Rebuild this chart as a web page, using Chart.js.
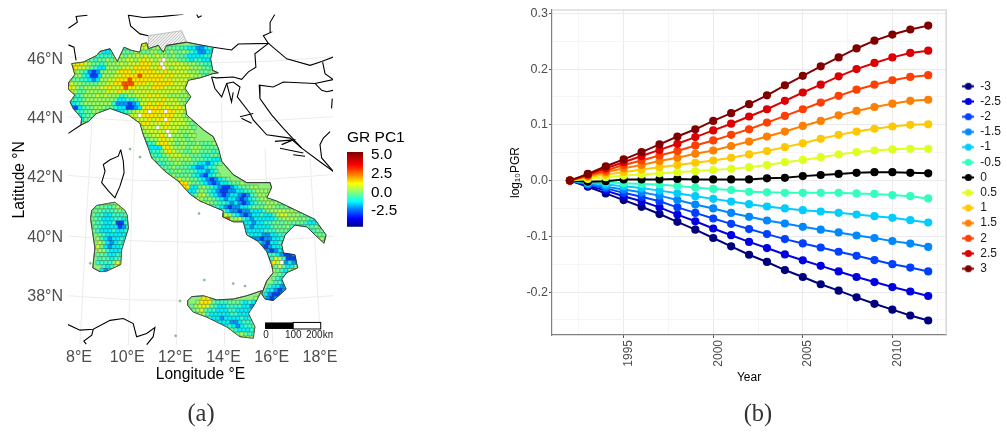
<!DOCTYPE html>
<html>
<head>
<meta charset="utf-8">
<title>GR PC1 map and PGR trends</title>
<script src="https://cdn.jsdelivr.net/npm/chart.js@4"></script>
<style>
  html, body { margin: 0; padding: 0; background: #fff; width: 1007px; height: 434px; overflow: hidden; }
  canvas { position: absolute; }
  .caption { position: absolute; top: 399px; width: 60px; text-align: center; font: 24.5px "Liberation Serif", serif; color: #333; }
</style>
</head>
<body>
<canvas id="mapChart" width="345" height="400" style="left:0;top:0"></canvas>
<canvas id="barChart" width="80" height="111" style="left:340px;top:125px"></canvas>
<canvas id="pgrChart" width="507" height="434" style="left:500px;top:0"></canvas>
<div class="caption" style="left:171px">(a)</div>
<div class="caption" style="left:728px">(b)</div>
<script>
// ---- line chart data (right panel)
const years = [1992,1993,1994,1995,1996,1997,1998,1999,2000,2001,2002,2003,2004,2005,2006,2007,2008,2009,2010,2011,2012];
const seriesNames = ["-3","-2.5","-2","-1.5","-1","-0.5","0","0.5","1","1.5","2","2.5","3"];
const seriesColors = ["#00007F","#0000E0","#0040FF","#0088FF","#00CCFF","#30FFC0","#000000","#DFFF20","#FFC800","#FF8000","#FF4000","#DD0000","#800000"];
const pgrM3 = [0,-.011,-.023,-.035,-.047,-.060,-.074,-.088,-.103,-.118,-.133,-.146,-.1605,-.173,-.186,-.1975,-.2095,-.221,-.2315,-.242,-.251];
const pgrM25 = [0,-.009,-.018,-.028,-.037,-.048,-.061,-.073,-.086,-.098,-.110,-.121,-.1325,-.143,-.153,-.163,-.173,-.182,-.191,-.199,-.207];
const pgrM2 = [0,-.007,-.014,-.022,-.029,-.037,-.048,-.058,-.068,-.0776,-.087,-.096,-.105,-.1128,-.120,-.1277,-.135,-.1426,-.150,-.156,-.163];
const pgrM15 = [0,-.006,-.011,-.016,-.021,-.027,-.035,-.043,-.050,-.058,-.065,-.0716,-.077,-.083,-.088,-.093,-.0985,-.103,-.1086,-.113,-.119];
const pgrM1 = [0,-.004,-.007,-.010,-.0135,-.018,-.0227,-.028,-.0328,-.0376,-.0424,-.0465,-.050,-.0531,-.0555,-.0578,-.0608,-.0638,-.0668,-.071,-.0752];
const pgrM05 = [0,-.003,-.003,-.005,-.006,-.007,-.0095,-.0125,-.015,-.017,-.020,-.021,-.022,-.022,-.022,-.022,-.023,-.024,-.026,-.028,-.032];
const pgr0 = [0,-.002,-.001,.002,.002,.002,.003,.002,.002,.002,.002,.004,.005,.008,.010,.012,.014,.015,.015,.014,.013];
const pgrP05 = [0,.003,.006,.009,.011,.013,.015,.017,.019,.021,.024,.028,.033,.037,.042,.047,.051,.054,.056,.057,.057];
const pgrP1 = [0,.006,.011,.015,.020,.024,.028,.032,.036,.041,.047,.053,.060,.067,.075,.082,.088,.093,.097,.100,.101];
const pgrP15 = [0,.008,.015,.022,.028,.035,.041,.048,.054,.062,.070,.079,.088,.098,.107,.117,.125,.132,.138,.143,.145];
const pgrP2 = [0,.009,.018,.028,.036,.045,.053,.063,.072,.082,.092,.104,.116,.128,.140,.152,.163,.172,.180,.186,.189];
const pgrP25 = [0,.011,.022,.033,.044,.055,.066,.078,.090,.102,.115,.128,.143,.158,.172,.187,.200,.211,.221,.229,.233];
const pgrP3 = [0,.012,.0257,.038,.051,.065,.079,.092,.107,.121,.137,.153,.171,.188,.205,.221,.237,.251,.262,.271,.278];
const pgrSeries = [pgrM3,pgrM25,pgrM2,pgrM15,pgrM1,pgrM05,pgr0,pgrP05,pgrP1,pgrP15,pgrP2,pgrP25,pgrP3];
const yearTicks = [1992.5,1995,1997.5,2000,2002.5,2005,2007.5,2010,2012.5];
const pgrTicks = [-.25,-.2,-.15,-.1,-.05,0,.05,.1,.15,.2,.25,.3];

// ---- map data (left panel), all lon/lat
const lonTicks = [8,10,12,14,16,18];
const latTicks = [38,40,42,44,46];
const mainland = [[7.56,45.2],[7.83,45.48],[7.7,45.85],[8.18,45.9],[8.73,46.12],[8.87,46.26],[9.29,46.35],[9.59,45.92],[9.87,46.4],[10.19,46.29],[10.53,46.23],[10.6,46.51],[10.81,46.55],[10.88,46.35],[11.29,46.46],[11.5,46.23],[11.64,46.46],[12.47,46.57],[13.02,46.48],[13.57,46.4],[13.46,46.01],[13.55,45.62],[13.78,45.54],[13.55,45.51],[13.02,45.37],[12.54,45.29],[12.4,45.01],[12.64,44.73],[12.4,44.45],[12.47,44.12],[13.16,43.62],[13.57,43.39],[13.78,43.0],[13.92,42.56],[14.4,42.11],[14.96,41.84],[15.93,41.84],[15.99,41.67],[15.79,41.33],[16.2,41.22],[17.79,40.6],[17.86,40.52],[18.25,40.08],[18.17,39.8],[17.79,40.08],[17.45,40.35],[16.96,40.41],[16.55,40.08],[16.41,39.75],[16.48,39.47],[16.96,39.41],[17.07,38.97],[16.62,38.81],[16.41,38.59],[16.59,38.25],[16.06,37.87],[15.72,37.92],[15.58,38.09],[15.79,38.53],[16.06,38.81],[15.99,39.08],[15.79,39.52],[15.44,39.86],[14.96,40.08],[14.82,40.52],[14.4,40.52],[13.96,40.69],[13.99,40.89],[13.02,41.22],[12.61,41.45],[12.12,41.89],[11.57,42.22],[11.02,42.67],[10.88,43.0],[10.67,43.45],[10.53,43.84],[10.05,44.12],[9.29,44.34],[8.73,44.17],[8.39,43.9],[8.08,43.78],[8.11,44.01],[7.76,44.34],[7.63,44.56],[7.83,44.79],[7.56,44.99],[7.56,45.2]];
const sicily = [[12.51,37.87],[12.68,38.0],[13.16,38.03],[13.71,37.89],[14.4,37.92],[14.96,38.03],[15.58,38.2],[15.3,37.76],[15.03,37.43],[15.3,36.98],[15.23,36.6],[14.68,36.65],[14.13,36.98],[13.3,37.31],[12.74,37.48],[12.51,37.7],[12.51,37.87]];
const sardinia = [[8.53,40.91],[8.73,41.07],[9.49,41.18],[9.9,40.91],[10.0,40.74],[10.05,40.3],[9.77,39.58],[9.73,39.08],[9.15,38.86],[8.87,38.84],[8.57,38.97],[8.66,39.64],[8.48,40.63],[8.53,40.91]];
const greyArea = [[10.88,46.79],[11.36,46.85],[12.26,46.96],[12.47,46.57],[11.64,46.46],[11.5,46.23],[11.29,46.46],[10.88,46.35],[10.88,46.79]];
const specks = [[10.53,42.7],[10.12,42.97],[12.01,36.68],[14.89,38.36],[14.4,38.44],[13.2,38.56],[12.19,37.85],[8.47,39.12],[12.98,40.8]];
const borders = [
  [[7.56,47.04],[7.93,47.24],[7.88,47.44],[8.35,47.48]],
  [[7.56,46.48],[7.79,46.4],[7.88,45.96]],
  [[10.88,46.79],[10.53,46.85],[10.14,47.12],[10.05,47.48],[10.67,47.4],[11.5,47.44],[12.33,47.51]],
  [[12.88,47.51],[12.95,47.4],[13.09,47.46]],
  [[13.57,46.4],[14.33,46.31],[14.61,46.51],[15.86,46.53],[15.65,46.79],[15.95,46.9],[15.93,47.24],[16.13,47.51]],
  [[15.86,46.53],[16.62,46.01],[17.59,45.79],[18.07,45.92],[18.55,46.07]],
  [[15.86,46.53],[15.3,46.18],[15.34,45.73],[15.03,45.57],[14.75,45.32],[14.4,45.4],[13.71,45.37],[13.5,45.4]],
  [[13.5,45.4],[13.64,45.01],[13.92,44.73],[14.13,45.18],[14.4,45.23],[14.68,45.06],[14.57,44.73],[15.1,44.17],[15.23,43.95],[15.79,43.45],[16.76,43.34],[17.24,43.0],[18.07,42.5],[18.55,42.22]],
  [[18.55,45.31],[17.79,45.18],[16.48,45.23],[16.06,45.06],[15.48,45.12],[15.51,44.67],[15.99,44.12],[16.48,43.67],[17.24,43.0]],
  [[18.11,45.9],[18.21,45.51],[18.55,45.31]],
  [[18.55,44.95],[18.28,44.9],[18.07,44.95],[17.79,45.18]],
  [[18.51,44.67],[18.48,44.34]],
  [[18.42,43.56],[18.14,43.34],[18.0,43.12],[18.07,42.67],[18.55,42.22]],
  [[14.13,45.18],[14.33,44.56],[14.4,44.88]],
  [[14.68,44.06],[15.23,44.17]],
  [[14.74,44.01],[15.16,43.84]],
  [[16.13,43.23],[16.89,43.28],[16.41,43.12]],
  [[16.34,43.0],[17.31,42.84]],
  [[16.89,42.78],[17.38,42.73]],
  [[9.73,42.95],[9.84,42.56],[9.87,42.17],[9.7,41.72],[9.49,41.33],[9.22,41.56],[8.94,41.84],[9.08,42.22],[9.01,42.45],[9.29,42.61],[9.63,42.73],[9.73,42.95]],
  [[7.56,43.5],[8.08,43.78]],
  [[7.54,37.06],[8.04,36.87],[8.59,36.9],[9.29,37.2],[9.84,37.26],[10.25,37.09],[10.39,36.65],[10.81,36.76],[11.15,36.96],[11.08,36.65],[10.81,36.38]],
  [[8.59,36.9],[8.53,36.7],[8.2,36.5],[8.3,36.4]]
];
const graticule = [
  [[7.53,46.08],[10.25,45.92],[13.02,45.87],[15.79,45.92],[18.55,46.08]],
  [[7.53,44.06],[10.25,43.92],[13.02,43.87],[15.79,43.92],[18.55,44.06]],
  [[7.53,42.08],[10.25,41.92],[13.02,41.89],[15.79,41.95],[18.55,42.11]],
  [[7.53,40.04],[10.25,39.88],[13.02,39.83],[15.79,39.88],[18.55,40.04]],
  [[7.53,38.03],[10.25,37.89],[13.02,37.87],[15.79,37.89],[18.55,38.03]],
  [[8.55,44.01],[8.35,41.22],[8.04,36.38]],
  [[10.32,43.95],[10.19,41.22],[10.05,36.38]],
  [[12.12,42.34],[12.05,36.38]],
  [[13.92,44.56],[14.04,36.38]],
  [[15.72,43.0],[16.04,36.38]],
  [[17.59,42.67],[18.03,36.38]]
];
// GR PC1 level of each map cell, north to south; blank is sea, '.' is no data
const grLevels = [-3.6,-2.8,-2.0,-1.3,-0.7,-0.25,0.25,0.7,1.4,2.8];
const grRows = [
  "",
  "",
  "",
  "                  78",
  "             5454577566565554433223445",
  "        334455556655665656556543223344",
  "   55654444556566767667665655433334434",
  " 6655545565666776787767.6665543443344",
  "67887655456667677788877.77777666554445",
  "68776543366667778888778.76777766655444",
  "57654212566678887888887787777766655",
  "56643113666778888988888878777776654",
  "65544323667788898888888878777766666",
  "76655556677889998887788888777766665",
  "87656666778778988777788877777776",
  "76556666677787767777777777776666",
  "65456667676664566777878776666665",
  "54456666666533445677777877766556",
  "43456666666422212377878877776655",
  "21345566655433112378888787787666",
  "23445566554433456778.888.8877666",
  "32345555543334677.8888788877666",
  "  3355       55677778788.877766",
  "    445        6678877778777765",
  "                 66777.787776665",
  "                 5677777.776666",
  "                 56667787.666566",
  "                  5566787766656",
  "                   344788765665565556",
  "                   433378766656665555",
  "                    444578766556655545",
  "                    544567776655544555",
  "                     55556666665554433555",
  "                      4455665554332345",
  "                       55565554322344",
  "                        5556555433234",
  "                         5655554321345",
  "                          67665543212345",
  "                           98865543212334556",
  "                            8833565432112345566",
  "                             7335654321122334456666",
  "                             9456754321233212456665",
  "                               9765654323321234566655",
  "                                 765544323212345566656",
  "                                   65432122334555666555",
  "                                     75322122333456677666555",
  "                                      976432123343346776665554",
  "                                       9667432333334566665654443",
  "                                      6677643323344555555554334",
  "                                         754323333455564444455",
  "                                          433333344455544444445555555",
  "                                           543332233444555555555",
  "                                            4322122334       566",
  "                                             433213344        56",
  "                                              33212334",
  "                                               33212334",
  "                                                344432112",
  "                                                  47641112",
  "                                                  687.2323",
  "                                                   5753356",
  "                                                   6543576",
  "                                                    54334",
  "                                                   5433",
  "                                                   4433",
  "                                                  43323",
  "                                                 332123",
  "                                                 321123",
  "                                 88           6542123",
  "                                688854445554343245313",
  "                              5678754334444332345322",
  "                              5567544333443333476",
  "                               56643333344333487",
  "                                5544332333343487",
  "                                  5433332234445",
  "                                     54343234455",
  "                                       55433346",
  "                                         5565445",
  "                                           66655",
  "                                             6665"
];
// Sardinia rows start further down the same grid
const sardiniaRow0 = 43;
const sardiniaRows = [
  "       556566",
  "      555545677",
  "      5544455567",
  "      5443344456",
  "      5433344346",
  "      5443341146",
  "      5433331245",
  "      5433343345",
  "       543333345",
  "       643233444",
  "       753234344",
  "       75323345",
  "       66433335",
  "       55433455",
  "       45434467",
  "       44445777",
  "        4346887",
  "        324885",
  "         3355"
];
const gridLon0 = 7.544, gridLonStep = 0.166, gridLat0 = 46.97, gridLatStep = 0.1338;
const scaleBarLon = [15.72, 16.89, 18.03];
const scaleBarLat = [37.13, 36.91];
const scaleLabels = [["0",15.76],["100",16.89],["200km",18.04]];

// ---- colour bar
const barTicks = [-2.5,0,2.5,5];
const barMin = -4.6, barMax = 5.43;
const jetStops = [[-4.6,[0,0,127]],[-3.5,[0,0,255]],[-2.2,[0,127,255]],[-1.2,[0,255,255]],[0,[127,255,127]],[1.2,[255,255,0]],[2.4,[255,127,0]],[3.7,[255,0,0]],[5.43,[127,0,0]]];

function jet(v) {
    for (let i = 1; i < jetStops.length; i++) {
        if (v <= jetStops[i][0]) {
            const a = jetStops[i - 1], b = jetStops[i];
            const t = Math.max(0, (v - a[0]) / (b[0] - a[0]));
            const c = a[1].map((n, k) => Math.round(n + (b[1][k] - n) * t));
            return `rgb(${c[0]},${c[1]},${c[2]})`;
        }
    }
    return "rgb(127,0,0)";
}

const toXY = list => list.map(p => ({ x: p[0], y: p[1] }));
const FONT = "'Liberation Sans', Arial, sans-serif";

// ---- cells of the map, odd rows shifted half a cell so the mosaic is less of a checkerboard
const cells = [];
const cellColors = [];
function addRows(rows, firstRow) {
    rows.forEach((row, r) => {
        const j = firstRow + r;
        row.split("").forEach((ch, i) => {
            if (ch === " ") return;
            cells.push({ x: gridLon0 + gridLonStep * (i + 0.5 + (j % 2) * 0.5), y: gridLat0 - gridLatStep * (j + 0.5) });
            cellColors.push(ch === "." ? "#ffffff" : jet(grLevels[Number(ch)]));
        });
    });
}
addRows(grRows, 0);
addRows(sardiniaRows, sardiniaRow0);

// clips the cell dataset to the land shapes
const landClip = {
    id: "landClip",
    beforeDatasetDraw(chart, args) {
        if (!chart.data.datasets[args.index].landCells) return;
        const { ctx, scales } = chart;
        ctx.save();
        ctx.beginPath();
        [mainland, sicily, sardinia].forEach(poly => {
            poly.forEach((p, i) => {
                const x = scales.x.getPixelForValue(p[0]);
                const y = scales.y.getPixelForValue(p[1]);
                if (i === 0) ctx.moveTo(x, y); else ctx.lineTo(x, y);
            });
            ctx.closePath();
        });
        ctx.clip();
    },
    afterDatasetDraw(chart, args) {
        if (chart.data.datasets[args.index].landCells) chart.ctx.restore();
    }
};

// scale bar at the bottom right of the map
const scaleBar = {
    id: "scaleBar",
    afterDatasetsDraw(chart) {
        const { ctx, scales, chartArea } = chart;
        const x0 = scales.x.getPixelForValue(scaleBarLon[0]);
        const x1 = scales.x.getPixelForValue(scaleBarLon[1]);
        const x2 = scales.x.getPixelForValue(scaleBarLon[2]);
        const y0 = scales.y.getPixelForValue(scaleBarLat[0]);
        const y1 = scales.y.getPixelForValue(scaleBarLat[1]);
        ctx.save();
        ctx.beginPath();
        ctx.rect(chartArea.left, chartArea.top, chartArea.width, chartArea.height);
        ctx.clip();
        ctx.fillStyle = "#000";
        ctx.fillRect(x0, y0, x1 - x0, y1 - y0);
        ctx.fillStyle = "#fff";
        ctx.strokeStyle = "#000";
        ctx.lineWidth = 1;
        ctx.fillRect(x1, y0, x2 - x1, y1 - y0);
        ctx.strokeRect(x1, y0, x2 - x1, y1 - y0);
        ctx.fillStyle = "#222";
        ctx.font = "10px " + FONT;
        ctx.textAlign = "center";
        ctx.textBaseline = "middle";
        scaleLabels.forEach(l => {
            ctx.fillText(l[0], scales.x.getPixelForValue(l[1]), y1 + 6);
        });
        ctx.restore();
    }
};

function lineSet(points, color, width) {
    return { data: toXY(points), showLine: true, pointRadius: 0, borderColor: color, borderWidth: width, fill: false, tension: 0 };
}

function landSet(points) {
    return { data: toXY(points), showLine: true, pointRadius: 0, borderColor: "#2b2b2b", borderWidth: 0.8, backgroundColor: "#8CF07A", fill: "shape" };
}

// speckled fill of the no-data area in the north
function greyPattern() {
    const c = document.createElement("canvas");
    c.width = 3; c.height = 3;
    const g = c.getContext("2d");
    g.fillStyle = "#f0f0f0";
    g.fillRect(0, 0, 3, 3);
    g.fillStyle = "#c4c4c4";
    g.fillRect(0, 0, 1, 1);
    g.fillRect(2, 1, 1, 1);
    g.fillRect(1, 2, 1, 1);
    return g.createPattern(c, "repeat");
}

const mapSets = [];
graticule.forEach(g => mapSets.push(lineSet(g, "#ececec", 1)));
borders.forEach(b => mapSets.push(lineSet(b, "#000000", 1.1)));
mapSets.push({ data: toXY(greyArea), showLine: true, pointRadius: 0, borderColor: "#9a9a9a", borderWidth: 0.6, backgroundColor: greyPattern(), fill: "shape" });
mapSets.push(landSet(mainland));
mapSets.push(landSet(sicily));
mapSets.push(landSet(sardinia));
mapSets.push({ landCells: true, data: cells, pointStyle: "rect", pointRadius: 3, pointBackgroundColor: cellColors, pointBorderColor: "rgba(50,50,50,0.45)", pointBorderWidth: 0.6, showLine: false });
mapSets.push(lineSet(mainland, "#2b2b2b", 0.7));
mapSets.push(lineSet(sicily, "#3a3a3a", 0.6));
mapSets.push(lineSet(sardinia, "#3a3a3a", 0.6));
mapSets.push({ data: toXY(specks), pointRadius: 1, pointBackgroundColor: "#7fdc8c", pointBorderColor: "#5a8f66", pointBorderWidth: 0.5, showLine: false });
mapSets.forEach((s, i) => { s.order = mapSets.length - i; });

new Chart(document.getElementById("mapChart"), {
    type: "scatter",
    data: { datasets: mapSets },
    plugins: [landClip, scaleBar],
    options: {
        responsive: false,
        animation: false,
        events: [],
        layout: { padding: { top: 12, right: 12, left: 0, bottom: 16 } },
        plugins: { legend: { display: false }, tooltip: { enabled: false } },
        scales: {
            x: {
                min: 7.544, max: 18.54,
                afterBuildTicks: s => { s.ticks = lonTicks.map(v => ({ value: v })); },
                afterFit: s => { s.height = 39; },
                grid: { display: false, drawTicks: false },
                border: { display: false },
                ticks: { color: "#4D4D4D", font: { family: FONT, size: 16 }, padding: 3, maxRotation: 0, autoSkip: false, callback: v => v + "°E" },
                title: { display: true, text: "Longitude °E", color: "#000", font: { family: FONT, size: 15.6 }, padding: { top: 1, bottom: 0 } }
            },
            y: {
                min: 36.37, max: 47.5,
                afterBuildTicks: s => { s.ticks = latTicks.map(v => ({ value: v })); },
                afterFit: s => { s.width = 68; },
                grid: { display: false, drawTicks: false },
                border: { display: false },
                ticks: { color: "#4D4D4D", font: { family: FONT, size: 16 }, padding: 5, autoSkip: false, callback: v => v + "°N" },
                title: { display: true, text: "Latitude °N", color: "#000", font: { family: FONT, size: 15.6 }, padding: { top: 10, bottom: 0 } }
            }
        }
    }
});

// ---- colour bar chart
new Chart(document.getElementById("barChart"), {
    type: "bar",
    data: {
        labels: ["GR PC1"],
        datasets: [{
            data: [[barMin, barMax]],
            barPercentage: 1,
            categoryPercentage: 1,
            backgroundColor: context => {
                const { ctx, chartArea } = context.chart;
                if (!chartArea) return "#7FFF7F";
                const grad = ctx.createLinearGradient(0, chartArea.bottom, 0, chartArea.top);
                jetStops.forEach(s => grad.addColorStop((s[0] - barMin) / (barMax - barMin), `rgb(${s[1].join(",")})`));
                return grad;
            }
        }]
    },
    options: {
        responsive: false,
        animation: false,
        events: [],
        layout: { padding: { left: 7, top: 0, bottom: 0, right: 0 } },
        plugins: {
            legend: { display: false },
            tooltip: { enabled: false },
            title: { display: true, text: "GR PC1", align: "start", color: "#000", font: { family: FONT, size: 15.5, weight: "normal" }, padding: { top: 3, bottom: 5.4 } }
        },
        scales: {
            x: { display: false },
            y: {
                position: "right",
                min: barMin, max: barMax,
                afterBuildTicks: s => { s.ticks = barTicks.map(v => ({ value: v })); },
                afterFit: s => { s.width = 57; },
                grid: { display: false },
                border: { display: false },
                ticks: { color: "#000", font: { family: FONT, size: 15.3 }, padding: 0, autoSkip: false, callback: v => v.toFixed(1) }
            }
        }
    }
});

// ---- PGR line chart
function legendIcon(color) {
    const c = document.createElement("canvas");
    c.width = 12; c.height = 9;
    const g = c.getContext("2d");
    g.strokeStyle = color;
    g.lineWidth = 2;
    g.beginPath(); g.moveTo(0, 4.5); g.lineTo(12, 4.5); g.stroke();
    g.fillStyle = color;
    g.beginPath(); g.arc(6, 4.5, 3.6, 0, Math.PI * 2); g.fill();
    return c;
}

const isMajor = (v, step) => Math.abs(v / step - Math.round(v / step)) < 1e-6;

// top and right edge of the panel are lighter than the axis lines
const panelEdge = {
    id: "panelEdge",
    beforeDatasetsDraw(chart) {
        const { ctx, chartArea: a } = chart;
        ctx.save();
        ctx.strokeStyle = "#cccccc";
        ctx.lineWidth = 1.2;
        ctx.beginPath();
        ctx.moveTo(a.left, a.top);
        ctx.lineTo(a.right, a.top);
        ctx.lineTo(a.right, a.bottom);
        ctx.stroke();
        ctx.restore();
    }
};

// legend sits higher and further right than the default box
const legendPlace = {
    id: "legendPlace",
    afterLayout(chart) {
        const l = chart.legend;
        l.left += 13;
        l.right += 13;
        l.top -= 20;
        l.bottom -= 20;
    }
};

const pgrSets = pgrSeries.map((values, i) => ({
    label: seriesNames[i],
    data: values.map((v, k) => ({ x: years[k], y: v })),
    showLine: true,
    borderColor: seriesColors[i],
    backgroundColor: seriesColors[i],
    borderWidth: 2,
    pointRadius: 3.1,
    tension: 0,
    order: pgrSeries.length - i
}));

new Chart(document.getElementById("pgrChart"), {
    type: "scatter",
    data: { datasets: pgrSets },
    plugins: [panelEdge, legendPlace],
    options: {
        responsive: false,
        animation: false,
        events: [],
        layout: { padding: { top: 10, right: 9, left: 0, bottom: 49 } },
        plugins: {
            tooltip: { enabled: false },
            legend: {
                position: "right",
                labels: {
                    usePointStyle: true,
                    pointStyleWidth: 12,
                    boxHeight: 9,
                    padding: 3.2,
                    color: "#1a1a1a",
                    font: { family: FONT, size: 12 },
                    generateLabels: chart => {
                        const items = Chart.defaults.plugins.legend.labels.generateLabels(chart);
                        items.sort((a, b) => a.datasetIndex - b.datasetIndex);
                        items.forEach((it, i) => { it.pointStyle = legendIcon(seriesColors[i]); it.fontColor = "#1a1a1a"; });
                        return items;
                    }
                }
            }
        },
        scales: {
            x: {
                min: 1991, max: 2013,
                afterBuildTicks: s => { s.ticks = yearTicks.map(v => ({ value: v })); },
                afterFit: s => { s.height = 50; },
                grid: {
                    color: c => isMajor(c.tick.value, 5) ? "#ebebeb" : "#f5f5f5",
                    tickColor: c => isMajor(c.tick.value, 5) ? "#555555" : "rgba(0,0,0,0)",
                    tickLength: 3
                },
                border: { color: "#808080", width: 1.2 },
                ticks: {
                    color: "#4D4D4D",
                    font: { family: FONT, size: 12 },
                    minRotation: 90, maxRotation: 90,
                    labelOffset: 5,
                    padding: 2,
                    autoSkip: false,
                    callback: v => isMajor(v, 5) ? String(v) : ""
                },
                title: { display: true, text: "Year", color: "#000", font: { family: FONT, size: 12 }, padding: { top: 2, bottom: 0 } }
            },
            y: {
                min: -0.277, max: 0.306,
                afterBuildTicks: s => { s.ticks = pgrTicks.map(v => ({ value: v })); },
                afterFit: s => { s.width = 52; },
                grid: {
                    color: c => isMajor(c.tick.value, 0.1) ? "#ebebeb" : "#f5f5f5",
                    tickColor: c => isMajor(c.tick.value, 0.1) ? "#555555" : "rgba(0,0,0,0)",
                    tickLength: 3
                },
                border: { color: "#808080", width: 1.2 },
                ticks: {
                    color: "#4D4D4D",
                    font: { family: FONT, size: 12.5 },
                    padding: 1,
                    autoSkip: false,
                    callback: v => isMajor(v, 0.1) ? v.toFixed(1) : ""
                },
                title: { display: true, text: "log₁₀PGR", color: "#000", font: { family: FONT, size: 12 }, padding: { top: 8, bottom: 0 } }
            }
        }
    }
});
</script>
</body>
</html>
